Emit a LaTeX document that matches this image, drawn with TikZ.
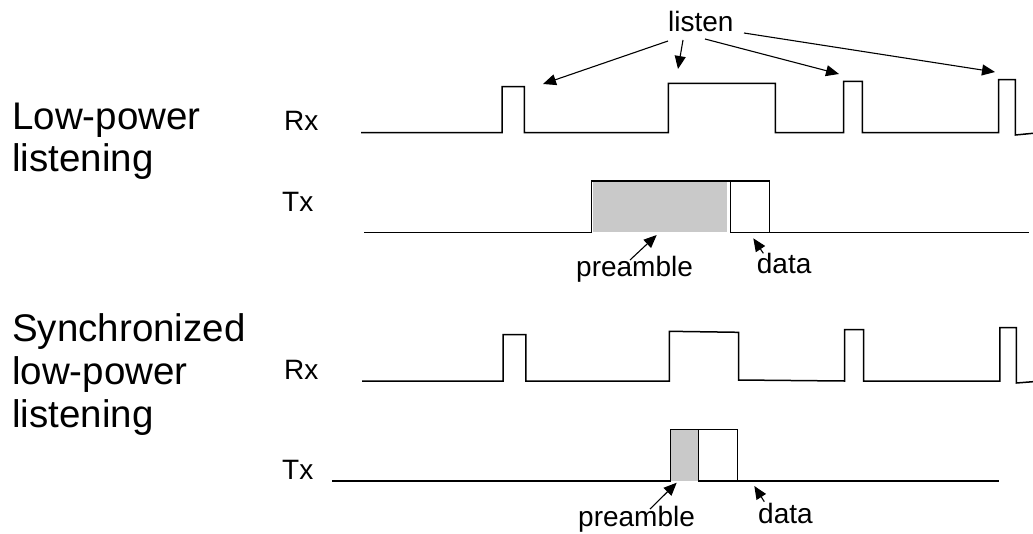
\documentclass[tikz,border=0pt]{standalone}
\usepackage{fontspec}
\setmainfont{Liberation Sans}
\usetikzlibrary{arrows.meta}
\begin{document}
\begin{tikzpicture}[x=1pt,y=-1pt,
  wave/.style={line width=1.5pt,line join=miter},
  callout/.style={line width=1.1pt,-{Triangle[length=13pt,width=11pt]}},
  big/.style={anchor=base west,inner sep=0pt,font=\fontsize{38.5}{43}\selectfont},
  small/.style={anchor=base west,inner sep=0pt,font=\fontsize{28}{32}\selectfont},
  pre/.style={fill=black!21,draw=none}]
\useasboundingbox (0,0) rectangle (1033,533);

% scheme titles
\node[big] (t1a) at (12,129) {Low-power};
\node[big] (t1b) at (12,171) {listening};
\node[big] (t2a) at (12,341) {Synchronized};
\node[big] (t2b) at (12,384) {low-power};
\node[big] (t2c) at (12,427) {listening};

% channel labels
\node[small] (rx1) at (284,130) {Rx};
\node[small] (tx1) at (282,211) {Tx};
\node[small] (rx2) at (284,379) {Rx};
\node[small] (tx2) at (282,479) {Tx};

% ---------- low-power listening ----------
\draw[wave] (361,132.7) -- (502,132.7) -- (502,86.7) -- (524.3,86.7) -- (524.3,132.7)
  -- (668.3,132.7) -- (668.3,83.3) -- (775.3,83.3) -- (775.3,132.7)
  -- (843.7,132.7) -- (843.7,81.3) -- (862.3,81.3) -- (862.3,132.7)
  -- (998.7,132.7) -- (998.7,79.7) -- (1015.3,79.7) -- (1015.3,135) -- (1033,133.3);

\fill[pre] (592.5,181.8) rectangle (726.7,232.3);
\draw[wave] (364,232.3) -- (591.7,232.3) -- (591.7,181) -- (769.3,181) -- (769.3,232.3) -- (1029,232.3);
\draw[wave] (730.3,181) -- (730.3,232.3) -- (769.3,232.3);

\node[small] (listen) at (668,31) {listen};
\coordinate (l1) at (668,41);
\coordinate (l2) at (683,40);
\coordinate (l3) at (705,39);
\coordinate (l4) at (744,33);
\coordinate (p1) at (543,84);
\coordinate (p2) at (678,69);
\coordinate (p3) at (839,74);
\coordinate (p4) at (995,72);
\draw[callout] (l1) -- (p1);
\draw[callout] (l2) -- (p2);
\draw[callout] (l3) -- (p3);
\draw[callout] (l4) -- (p4);

\node[small] (pre1) at (576,276) {preamble};
\node[small] (dat1) at (756.7,273) {data};
\coordinate (pre1t) at (630,260);
\coordinate (pre1h) at (656.7,235);
\coordinate (dat1t) at (763.3,253.3);
\coordinate (dat1h) at (753.3,238.3);
\draw[callout] (pre1t) -- (pre1h);
\draw[callout] (dat1t) -- (dat1h);

% ---------- synchronized low-power listening ----------
\draw[wave] (362,381) -- (503.1,381) -- (503.1,334.7) -- (525.8,334.7) -- (525.8,381)
  -- (669.4,381) -- (669.4,331.3) -- (738.5,332.3) -- (738.5,380)
  -- (844.5,381) -- (844.5,329.7) -- (863.5,329.7) -- (863.5,381)
  -- (999.8,381) -- (999.8,327.7) -- (1016.3,327.7) -- (1016.3,383) -- (1033,381.7);

\fill[pre] (671.4,430) rectangle (698.3,481);
\draw[wave] (332,481) -- (670.7,481) -- (670.7,429.3) -- (737.7,429.3) -- (737.7,481) -- (999,481);
\draw[wave] (698.3,429.3) -- (698.3,481) -- (737.7,481);

\node[small] (pre2) at (578,526.5) {preamble};
\node[small] (dat2) at (758,523) {data};
\coordinate (pre2t) at (650,509);
\coordinate (pre2h) at (676.7,482.7);
\coordinate (dat2t) at (764.3,501.7);
\coordinate (dat2h) at (754.3,486);
\draw[callout] (pre2t) -- (pre2h);
\draw[callout] (dat2t) -- (dat2h);
\end{tikzpicture}
\end{document}
